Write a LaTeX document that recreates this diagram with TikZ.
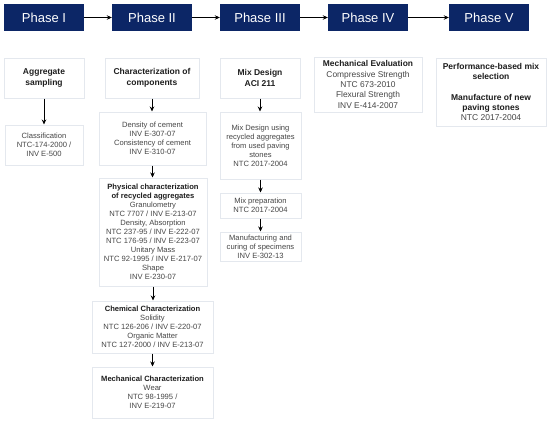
\documentclass[tikz,border=0pt]{standalone}
\usepackage{fontspec}
\setmainfont{Liberation Sans}
\usetikzlibrary{arrows.meta}
\definecolor{navy}{RGB}{12,38,102}
\definecolor{txt}{RGB}{70,70,70}
\definecolor{btxt}{RGB}{30,30,30}
\definecolor{edge}{RGB}{228,232,238}
\begin{document}
\begin{tikzpicture}[x=1pt,y=-1pt,
  phase/.style={fill=navy,draw=none,text=white,font=\fontsize{13}{15}\selectfont,minimum width=80pt,minimum height=27pt,inner sep=0pt},
  box/.style={fill=white,draw=edge,line width=1pt,text=txt,font=\fontsize{7.6}{9}\selectfont,align=center,inner sep=1pt},
  conn/.style={-{Stealth[length=5pt,width=4.5pt]},line width=0.7pt,black}]
\useasboundingbox (0,0) rectangle (550,424);
\newcommand{\hd}[1]{{\color{btxt}\bfseries #1}}
% phases
\node[phase] (p1) at (44,17.5) {Phase I};
\node[phase] (p2) at (152,17.5) {Phase II};
\node[phase] (p3) at (260,17.5) {Phase III};
\node[phase] (p4) at (368,17.5) {Phase IV};
\node[phase] (p5) at (489,17.5) {Phase V};
\draw[conn] (p1) -- (p2);
\draw[conn] (p2) -- (p3);
\draw[conn] (p3) -- (p4);
\draw[conn] (p4) -- (p5);
% phase I
\node[box,minimum width=80pt,minimum height=40pt,font=\fontsize{8.5}{11}\selectfont] (agg) at (44,78) {\hd{Aggregate}\\\hd{sampling}};
\node[box,minimum width=78pt,minimum height=40pt] (cls) at (44,145) {Classification\\NTC-174-2000 /\\INV E-500};
% phase II
\node[box,minimum width=94pt,minimum height=40pt,font=\fontsize{8.5}{11}\selectfont] (chr) at (152,78) {\hd{Characterization of}\\\hd{components}};
\node[box,minimum width=107pt,minimum height=53pt] (den) at (152.5,138.5) {Density of cement\\INV E-307-07\\Consistency of cement\\INV E-310-07};
\node[box,minimum width=108pt,minimum height=108pt] (phy) at (153,232) {\hd{Physical characterization}\\\hd{of recycled aggregates}\\Granulometry\\NTC 7707 / INV E-213-07\\Density, Absorption\\NTC 237-95 / INV E-222-07\\NTC 176-95 / INV E-223-07\\Unitary Mass\\NTC 92-1995 / INV E-217-07\\Shape\\INV E-230-07};
\node[box,minimum width=121pt,minimum height=52pt] (che) at (152.5,327) {\hd{Chemical Characterization}\\Solidity\\NTC 126-206 / INV E-220-07\\Organic Matter\\NTC 127-2000 / INV E-213-07};
\node[box,minimum width=121pt,minimum height=51pt] (mec) at (152.5,392.5) {\hd{Mechanical Characterization}\\Wear\\NTC 98-1995 /\\INV E-219-07};
% phase III
\node[box,minimum width=80pt,minimum height=40pt,font=\fontsize{8.5}{11}\selectfont] (mix) at (260,78) {\hd{Mix Design}\\\hd{ACI 211}};
\node[box,minimum width=81pt,minimum height=67pt] (mdu) at (260.5,145.5) {Mix Design using\\recycled aggregates\\from used paving\\stones\\NTC 2017-2004};
\node[box,minimum width=81pt,minimum height=25pt] (mpr) at (260.5,205.5) {Mix preparation\\NTC 2017-2004};
\node[box,minimum width=81pt,minimum height=29pt] (man) at (260.5,246.5) {Manufacturing and\\curing of specimens\\INV E-302-13};
% phase IV
\node[box,minimum width=108pt,minimum height=55pt,font=\fontsize{8.4}{10.4}\selectfont] (mev) at (368,84.5) {\hd{Mechanical Evaluation}\\Compressive Strength\\NTC 673-2010\\Flexural Strength\\INV E-414-2007};
% phase V
\node[box,minimum width=110pt,minimum height=68pt,font=\fontsize{8.5}{10.4}\selectfont] (per) at (491,92) {\hd{Performance-based mix}\\\hd{selection}\\[10pt]\hd{Manufacture of new}\\\hd{paving stones}\\NTC 2017-2004};
% connectors
\draw[conn] (agg.south) -- (agg.south |- cls.north);
\draw[conn] (chr.south) -- (chr.south |- den.north);
\draw[conn] (den.south) -- (den.south |- phy.north);
\draw[conn] (phy.south) -- (phy.south |- che.north);
\draw[conn] (che.south) -- (che.south |- mec.north);
\draw[conn] (mix.south) -- (mix.south |- mdu.north);
\draw[conn] (mdu.south) -- (mdu.south |- mpr.north);
\draw[conn] (mpr.south) -- (mpr.south |- man.north);
\end{tikzpicture}
\end{document}
